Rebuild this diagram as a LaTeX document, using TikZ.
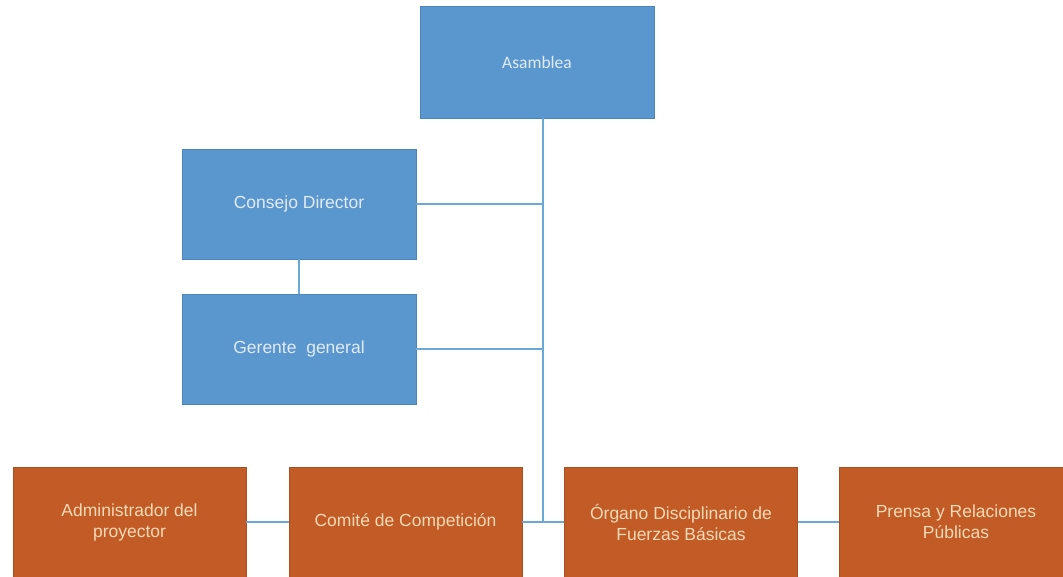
\documentclass[tikz,border=0pt]{standalone}
\usepackage{fontspec}
\setmainfont{Liberation Sans}
\newfontfamily\calib{Carlito}
\definecolor{boxblue}{HTML}{5B97CF}
\definecolor{blueedge}{HTML}{4A86BD}
\definecolor{boxorange}{HTML}{C25B26}
\definecolor{orangeedge}{HTML}{A9501F}
\definecolor{linkblue}{HTML}{6AA8D8}
\definecolor{bluetext}{HTML}{E2EAF3}
\definecolor{orangetext}{HTML}{F4DAB6}
\tikzset{
  bluebox/.style={rectangle, fill=boxblue, draw=blueedge, line width=0.8pt,
    minimum width=234pt, minimum height=110pt, inner sep=0pt,
    text=bluetext, font=\fontsize{17.5}{21}\selectfont, align=center},
  orangebox/.style={rectangle, fill=boxorange, draw=orangeedge, line width=0.8pt,
    minimum width=233pt, minimum height=110pt, inner sep=0pt,
    text=orangetext, font=\fontsize{17.5}{21}\selectfont, align=center},
  link/.style={draw=linkblue, line width=1.2pt}
}
\begin{document}
\begin{tikzpicture}[x=1pt,y=-1pt]
\useasboundingbox (0,0) rectangle (1063,577);
\clip (0,0) rectangle (1063,577);
\node[bluebox, minimum height=112pt, font=\calib\fontsize{17.5}{21}\selectfont] (A) at (537,62) {Asamblea};
\node[bluebox] (C) at (299,204) {Consejo Director};
\node[bluebox] (G) at (299,349) {Gerente\ \ general};
\node[orangebox] (Ad) at (129.5,522) {Administrador del\\proyector};
\node[orangebox] (Co) at (405.5,522) {Comité de Competición};
\node[orangebox] (Or) at (681,522) {Órgano Disciplinario de\\Fuerzas Básicas};
\node[orangebox] (Pr) at (956,522) {Prensa y Relaciones\\Públicas};
\coordinate (j) at (543,522);
\draw[link] (A.south -| j) -- (j);
\draw[link] (C.east) -- (C.east -| j);
\draw[link] (G.east) -- (G.east -| j);
\draw[link] (C.south) -- (G.north);
\draw[link] (Ad.east) -- (Co.west);
\draw[link] (Co.east) -- (Or.west);
\draw[link] (Or.east) -- (Pr.west);
\end{tikzpicture}
\end{document}
